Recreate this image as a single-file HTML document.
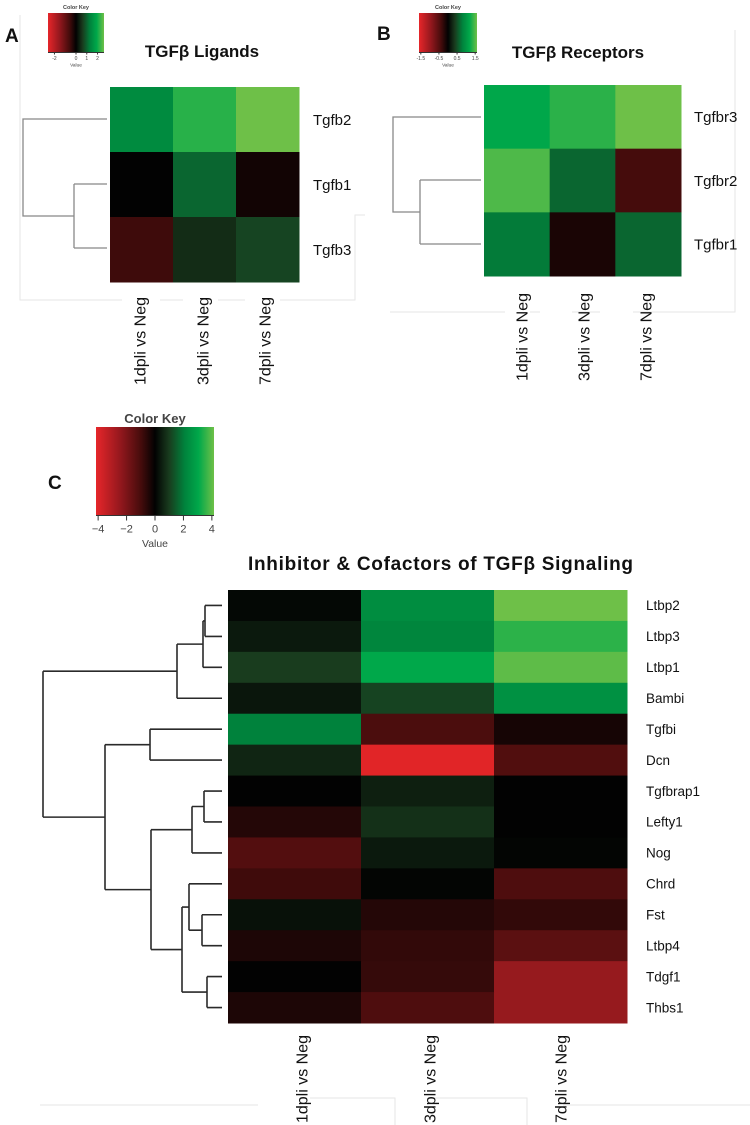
<!DOCTYPE html>
<html><head><meta charset="utf-8">
<style>
html,body{margin:0;padding:0;background:#fff;overflow:hidden;}
svg{display:block;font-family:"Liberation Sans",Arial,sans-serif;}
.lbl{font-family:"Liberation Sans",sans-serif;fill:#111;}
</style></head>
<body>
<svg id="fig" width="750" height="1125" viewBox="0 0 750 1125" xmlns="http://www.w3.org/2000/svg">
<defs>
<linearGradient id="keyGrad" x1="0" x2="1" y1="0" y2="0">
<stop offset="0" stop-color="#e6262a"/><stop offset="0.2" stop-color="#96181e"/>
<stop offset="0.38" stop-color="#460c0c"/><stop offset="0.5" stop-color="#020202"/>
<stop offset="0.62" stop-color="#193c1e"/><stop offset="0.75" stop-color="#00823c"/>
<stop offset="0.87" stop-color="#00a84a"/><stop offset="1" stop-color="#6ec048"/>
</linearGradient>
</defs>
<g stroke="#e6e6e6" fill="none">
<path d="M20 15 V300 H122 M160 300 H183 M218 300 H245 M280 300 H355 V215 H365"/>
<path d="M390 312 H505 M530 312 H540 M572 312 H600 M633 312 H735 V30"/>
<path d="M40 1105 H258 M310 1098 H395 V1125 M433 1098 H527 V1125 M563 1105 H750"/>
</g>
<g id="panelA"></g>
<g id="panelB"></g>
<g id="panelC"></g>
</svg>
<script>
const colsAll = ["1dpli vs Neg","3dpli vs Neg","7dpli vs Neg"];
const rowsA = ["Tgfb2","Tgfb1","Tgfb3"];
const valsA = [[1.4,2.1,2.5],[0,1.0,-0.15],[-0.55,0.45,0.7]];
const ticksA = ["-2","0","1","2"];
const tickValsA = [-2,0,1,2];
const rowsB = ["Tgfbr3","Tgfbr2","Tgfbr1"];
const valsB = [[1.12,1.27,1.5],[1.39,0.6,-0.37],[0.71,-0.13,0.6]];
const ticksB = ["-1.5","-0.5","0.5","1.5"];
const tickValsB = [-1.5,-0.5,0.5,1.5];
const rowsC = ["Ltbp2","Ltbp3","Ltbp1","Bambi","Tgfbi","Dcn","Tgfbrap1","Lefty1","Nog","Chrd","Fst","Ltbp4","Tdgf1","Thbs1"];
const valsC = [
 [0.1,2.3,4.0],[0.4,2.1,3.4],[1.0,3.0,3.85],[0.35,1.1,2.4],
 [2.0,-1.1,-0.3],[0.6,-3.9,-1.2],[0,0.5,0],[-0.5,0.8,0],
 [-1.25,0.4,0.05],[-0.9,0.05,-1.15],[0.25,-0.5,-0.7],[-0.4,-0.7,-1.4],
 [0,-0.75,-2.5],[-0.4,-1.15,-2.5]];
const ticksC = ["−4","−2","0","2","4"];
const tickValsC = [-4,-2,0,2,4];

const NS="http://www.w3.org/2000/svg";
function mk(tag,attrs,parent){const e=document.createElementNS(NS,tag);for(const k in attrs)e.setAttribute(k,attrs[k]);parent.appendChild(e);return e;}
const stops=[[-4,[230,38,40]],[-2.5,[150,26,30]],[-1,[70,12,12]],[0,[2,2,2]],[1,[25,60,30]],[2,[0,130,60]],[3,[0,168,74]],[4,[110,192,72]]];
function color(v,max){let t=v/max*4;t=Math.max(-4,Math.min(4,t));
 for(let i=0;i<stops.length-1;i++){const a=stops[i],b=stops[i+1];if(t>=a[0]&&t<=b[0]){const f=(t-a[0])/(b[0]-a[0]);
  const c=a[1].map((x,j)=>Math.round(x+(b[1][j]-x)*f));return `rgb(${c[0]},${c[1]},${c[2]})`;}}
 return "rgb(0,0,0)";}

function heatmap(g,rows,vals,max,x0,x1,y0,y1,labX,fs,colLabX,colLabTop,colFs){
 const cw=(x1-x0)/colsAll.length, rh=(y1-y0)/rows.length;
 rows.forEach((r,i)=>{
  vals[i].forEach((v,j)=>{
   const c=mk('rect',{x:x0+j*cw,y:y0+i*rh,width:cw+0.5,height:rh+0.5,fill:color(v,max)},g);
   
   
  });
  const t=mk('text',{x:labX,y:y0+(i+0.5)*rh+fs*0.35,class:'lbl','font-size':fs},g);
  t.textContent=r;
  
  
 });
 colsAll.forEach((c,j)=>{
  const cx=colLabX[j];
  const t=mk('text',{x:0,y:0,class:'lbl','font-size':colFs,'text-anchor':'end',transform:`translate(${cx+colFs*0.35},${colLabTop}) rotate(-90)`},g);
  t.textContent=c;
  
  
 });
}
function key(g,x,y,w,h,tickVals,tickLabels,max,fs,titleFs){
 const kt=mk('text',{x:x+w/2,y:y-4,'font-size':titleFs,'text-anchor':'middle','font-weight':'bold',fill:'#444'},g);
 kt.textContent='Color Key';
 
 
 const r=mk('rect',{x:x,y:y,width:w,height:h,fill:'url(#keyGrad)'},g);
 
 
 mk('line',{x1:x,x2:x+w,y1:y+h+0.5,y2:y+h+0.5,stroke:'#333','stroke-width':1},g);
 tickVals.forEach((v,i)=>{
  const tx=x+(v+max)/(2*max)*w;
  mk('line',{x1:tx,x2:tx,y1:y+h,y2:y+h+fs*0.5,stroke:'#333','stroke-width':1},g);
  const t=mk('text',{x:tx,y:y+h+fs*1.6,'font-size':fs,'text-anchor':'middle',fill:'#444'},g);
  t.textContent=tickLabels[i];
  
  
 });
 const vt=mk('text',{x:x+w/2,y:y+h+fs*2.9,'font-size':fs*0.95,'text-anchor':'middle',fill:'#444'},g);
 vt.textContent='Value';
 
 
}
function dendro(g,segs,color,sw){
 const p=mk('path',{d:segs,fill:'none',stroke:color,'stroke-width':sw},g);
 
 
}
function txt(g,x,y,s,fs,name,anchor){const t=mk('text',{x:x,y:y,'font-size':fs,'font-weight':'bold',fill:'#111','text-anchor':anchor||'start'},g);t.textContent=s;
 return t;}

const gA=document.getElementById('panelA');
txt(gA,5,42,'A',19,'panel-letter-a');
key(gA,48,13,56,39,tickValsA,ticksA,2.6,5,5.5);
txt(gA,202,57,'TGFβ Ligands',17,'panel-a-title','middle');
heatmap(gA,rowsA,valsA,2.5,110,299,87,282,313,15,[140,203,265],297,16);
dendro(gA,'M107 119 H23 V216 H74 M74 184 V248 M107 184 H74 M107 248 H74','#888',1.3);

const gB=document.getElementById('panelB');
txt(gB,377,40,'B',19,'panel-letter-b');
key(gB,419,13,58,39,tickValsB,ticksB,1.6,5,5.5);
txt(gB,578,58,'TGFβ Receptors',17,'panel-b-title','middle');
heatmap(gB,rowsB,valsB,1.5,484,681,85,276,694,15,[522,584,646],293,16);
dendro(gB,'M481 117 H393 V212 H420 M420 180 V244 M481 180 H420 M481 244 H420','#888',1.3);

const gC=document.getElementById('panelC');
txt(gC,48,489,'C',19,'panel-letter-c');
key(gC,96,427,118,88,tickValsC,ticksC,4.15,11,13);
const tc=txt(gC,248,570,'Inhibitor & Cofactors of TGFβ Signaling',19,'panel-c-title');
tc.setAttribute('textLength','385');
heatmap(gC,rowsC,valsC,4,228,627,590,1023,646,13.5,[302,430,561],1035,16);
{
 const y0=590,rh=(1023-590)/14; const Y=i=>y0+(i+0.5)*rh;
 const L=222;
 let d='';
 for(let i=0;i<14;i++) d+=`M${L} ${Y(i)} H`+[205,205,203,177,150,150,204,204,192,189,202,202,207,207][i]+' ';
 const m01=(Y(0)+Y(1))/2, m012=(m01+Y(2))/2, m0123=(m012+Y(3))/2;
 d+=`M205 ${Y(0)} V${Y(1)} M203 ${m01} V${Y(2)} M205 ${m01} H203 M177 ${m012} V${Y(3)} M203 ${m012} H177 `;
 const m45=(Y(4)+Y(5))/2;
 d+=`M150 ${Y(4)} V${Y(5)} `;
 const m67=(Y(6)+Y(7))/2, m678=(m67+Y(8))/2;
 d+=`M204 ${Y(6)} V${Y(7)} M192 ${m67} V${Y(8)} M204 ${m67} H192 `;
 const m1011=(Y(10)+Y(11))/2, m9=(Y(9)+m1011)/2, m1213=(Y(12)+Y(13))/2, mlow=(m9+m1213)/2;
 d+=`M202 ${Y(10)} V${Y(11)} M189 ${Y(9)} V${m1011} M202 ${m1011} H189 M207 ${Y(12)} V${Y(13)} M182 ${m9} V${m1213} M189 ${m9} H182 M207 ${m1213} H182 `;
 const mnl=(m678+mlow)/2;
 d+=`M151 ${m678} V${mlow} M192 ${m678} H151 M182 ${mlow} H151 `;
 const mbot=(m45+mnl)/2;
 d+=`M105 ${m45} V${mnl} M150 ${m45} H105 M151 ${mnl} H105 `;
 d+=`M43 ${m0123} V${mbot} M177 ${m0123} H43 M105 ${mbot} H43`;
 dendro(gC,d,'#2a2a2a',1.6);
}
</script>
</body></html>
